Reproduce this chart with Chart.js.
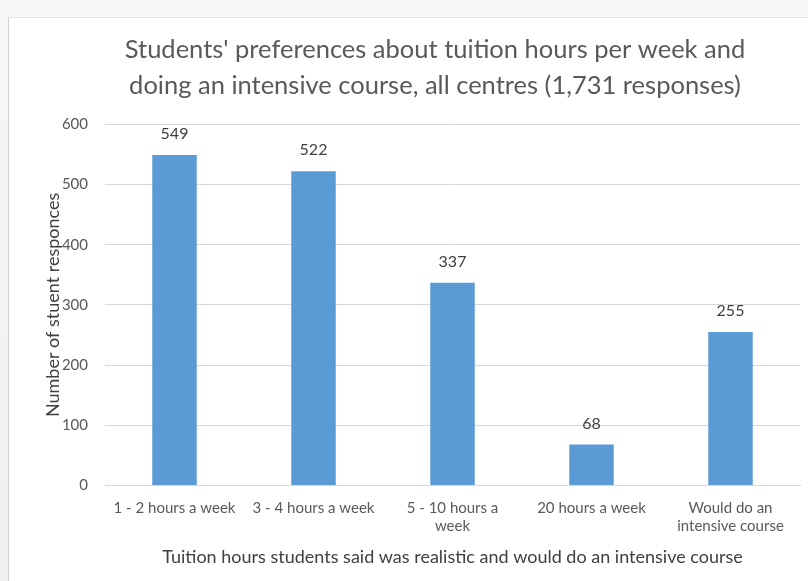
<!DOCTYPE html>
<html lang="en">

<head>
    <meta charset="UTF-8">
    <title>Tuition hours per week</title>
    <script src="https://cdn.jsdelivr.net/npm/chart.js"></script>
    <style>
        html, body {
            margin: 0;
            padding: 0;
            width: 808px;
            height: 581px;
            overflow: hidden;
            background: linear-gradient(#f7f7f7, #efefef);
        }

        #frame {
            position: absolute;
            left: 8px;
            top: 17px;
            width: 810px;
            height: 570px;
            background: #fff;
            border-left: 1px solid #d4d4d4;
            border-top: 1px solid #e2e2e2;
        }

        #frame canvas {
            position: absolute;
            left: 0;
            top: 0;
        }
    </style>
</head>

<body>
    <div id="frame"><canvas id="grafik" width="799" height="564"></canvas></div>

    <script>
        const kategoriyalar = [
            '1 - 2 hours a week',
            '3 - 4 hours a week',
            ['5 - 10 hours a', 'week'],
            '20 hours a week',
            ['Would do an', 'intensive course']
        ];
        const javoblar = [549, 522, 337, 68, 255];
        const yTicks = [0, 100, 200, 300, 400, 500, 600];

        const sarlavha = [
            "Students' preferences about tuition hours per week and",
            'doing an intensive course, all centres (1,731 responses)'
        ];
        const yNomi = 'Number of stuent responces';
        const xNomi = 'Tuition hours students said was realistic and would do an intensive course';

        const shrift = 'Lato, "Open Sans", sans-serif';
        const kulrang = '#595959';

        // values written above each bar
        const qiymatYozuvi = {
            id: 'qiymatYozuvi',
            afterDatasetsDraw(chart) {
                const ctx = chart.ctx;
                ctx.save();
                ctx.font = '16px ' + shrift;
                ctx.fillStyle = '#404040';
                ctx.textAlign = 'center';
                ctx.textBaseline = 'bottom';
                chart.getDatasetMeta(0).data.forEach((bar, i) => {
                    ctx.fillText(chart.data.datasets[0].data[i], bar.x, bar.y - 13);
                });
                ctx.restore();
            }
        };

        // nudge the title block a little to the right of its default centre
        const sarlavhaSurish = {
            id: 'sarlavhaSurish',
            afterLayout(chart) {
                const t = chart.titleBlock;
                if (t) {
                    t.left += 14;
                    t.right += 14;
                }
            }
        };

        new Chart(document.getElementById('grafik'), {
            type: 'bar',
            data: {
                labels: kategoriyalar,
                datasets: [{
                    data: javoblar,
                    backgroundColor: '#5b9bd5',
                    categoryPercentage: 0.64,
                    barPercentage: 0.5
                }]
            },
            plugins: [qiymatYozuvi, sarlavhaSurish],
            options: {
                responsive: false,
                animation: false,
                layout: {
                    padding: { left: 33, right: 8, top: 0, bottom: 10 }
                },
                plugins: {
                    legend: { display: false },
                    tooltip: { enabled: false },
                    title: {
                        display: true,
                        text: sarlavha,
                        color: kulrang,
                        font: { family: shrift, size: 25.5, weight: 'normal', lineHeight: 1.4 },
                        padding: { top: 14, bottom: 21 }
                    }
                },
                scales: {
                    x: {
                        // the labels fit inside their categories, so no extra side padding
                        afterFit(axis) {
                            axis.paddingLeft = 0;
                            axis.paddingRight = 0;
                        },
                        grid: { display: false },
                        border: { color: '#d9d9d9' },
                        ticks: {
                            color: kulrang,
                            font: { family: shrift, size: 15 },
                            maxRotation: 0,
                            autoSkip: false,
                            padding: 6
                        },
                        title: {
                            display: true,
                            text: xNomi,
                            color: '#404040',
                            font: { family: shrift, size: 18 },
                            padding: { top: 5 }
                        }
                    },
                    y: {
                        min: 0,
                        max: 600,
                        afterBuildTicks(axis) {
                            axis.ticks = yTicks.map(v => ({ value: v }));
                        },
                        afterFit(axis) {
                            axis.width = 63;
                        },
                        grid: { color: '#d9d9d9', drawTicks: false },
                        border: { display: false },
                        ticks: {
                            color: kulrang,
                            font: { family: shrift, size: 15 },
                            padding: 17
                        },
                        title: {
                            display: true,
                            text: yNomi,
                            color: '#404040',
                            font: { family: shrift, size: 18 },
                            padding: 0
                        }
                    }
                }
            }
        });
    </script>

</body>

</html>
